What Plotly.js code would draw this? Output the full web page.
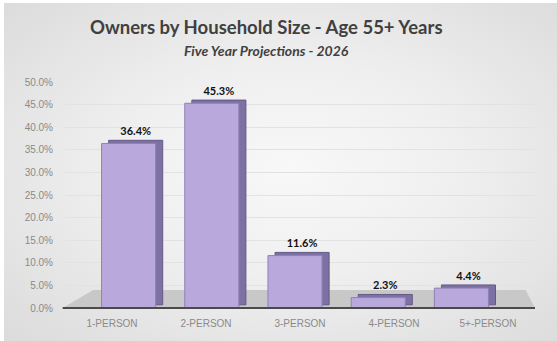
<!DOCTYPE html>
<html>
<head>
<meta charset="utf-8">
<script src="https://cdn.plot.ly/plotly-3.0.1.min.js"></script>
<style>
html,body{margin:0;padding:0;background:#ffffff;}
#chart{
  width:557px;height:341px;
  background:
    linear-gradient(#ffffff,#ffffff) top left/100% 3px no-repeat,
    linear-gradient(#ffffff,#ffffff) top left/4px 100% no-repeat,
    radial-gradient(ellipse 70% 70% at 52% 50%, #f8f8f8 0%, #efefef 45%, #dcdcdc 100%);
}
</style>
</head>
<body>
<div id="chart"></div>
<script>
const categories = ['1-PERSON', '2-PERSON', '3-PERSON', '4-PERSON', '5+-PERSON'];
const shares = [0.364, 0.453, 0.116, 0.023, 0.044];
const shareLabels = ['36.4%', '45.3%', '11.6%', '2.3%', '4.4%'];
const yTickValues = [0, 0.05, 0.10, 0.15, 0.20, 0.25, 0.30, 0.35, 0.40, 0.45, 0.50];
const chartTitle = 'Owners by Household Size - Age 55+ Years';
const chartSubtitle = 'Five Year Projections - 2026';

const BAR_WIDTH = 0.65;
const DEPTH_X = 0.085;   // category units
const DEPTH_Y = 0.007;   // value units

// darker extruded "depth" of each bar (drawn behind the front face)
const depth = {
  type: 'bar',
  x: categories,
  y: shares,
  base: DEPTH_Y,
  xaxis: 'x2',
  yaxis: 'y',
  width: BAR_WIDTH,
  offset: -BAR_WIDTH / 2 + DEPTH_X,
  marker: {color: '#7d70a2', line: {color: '#65598a', width: 1}},
  text: shareLabels,
  textposition: 'outside',
  cliponaxis: false,
  textfont: {family: 'Lato, "Open Sans", sans-serif', size: 11, color: '#111111', weight: 'bold'},
  hoverinfo: 'skip'
};

const bars = {
  type: 'bar',
  x: categories,
  y: shares,
  xaxis: 'x2',
  yaxis: 'y',
  width: BAR_WIDTH,
  offset: -BAR_WIDTH / 2,
  marker: {color: '#b8a8dc', line: {color: '#8f82b6', width: 1}},
  hoverinfo: 'skip'
};

// invisible carrier trace so the front category labels sit on the floor edge
const labelCarrier = {
  type: 'scatter',
  mode: 'markers',
  x: categories,
  y: categories.map(() => 0),
  xaxis: 'x',
  yaxis: 'y',
  marker: {opacity: 0, size: 1},
  hoverinfo: 'skip'
};

const layout = {
  width: 557,
  height: 341,
  margin: {l: 65, r: 22, t: 82, b: 33, autoexpand: false},
  paper_bgcolor: 'rgba(0,0,0,0)',
  plot_bgcolor: 'rgba(0,0,0,0)',
  showlegend: false,
  barmode: 'overlay',
  title: {
    text: '<b>' + chartTitle + '</b>',
    font: {family: 'Lato, "Open Sans", sans-serif', size: 18.5, color: '#404040'},
    xref: 'container', yref: 'container',
    x: 0.478, xanchor: 'center', y: 1 - 28 / 341, yanchor: 'middle'
  },
  annotations: [{
    text: '<b><i>' + chartSubtitle + '</i></b>',
    xref: 'paper', yref: 'paper',
    x: (266 - 65) / 470, y: (308 - 50) / 226,
    xanchor: 'center', yanchor: 'middle', showarrow: false,
    font: {family: 'Lato, "Open Sans", sans-serif', size: 14, color: '#404040'}
  }],
  xaxis: {
    domain: [0, 1],
    type: 'category',
    range: [-0.5, 4.5],
    automargin: false,
    showgrid: false, zeroline: false, showline: false,
    ticks: '',
    ticklabelstandoff: 8,
    tickfont: {family: '"Liberation Sans", sans-serif', size: 10, color: '#8a8a8a'},
    fixedrange: true
  },
  xaxis2: {
    domain: [22 / 470, 438 / 470],
    anchor: 'y',
    type: 'category',
    range: [-0.5, 4.5],
    automargin: false,
    showgrid: false, zeroline: false, showline: false,
    showticklabels: false, ticks: '',
    fixedrange: true
  },
  yaxis: {
    range: [0, 0.5],
    automargin: false,
    tickvals: yTickValues,
    tickformat: '.1%',
    showgrid: true,
    gridcolor: '#e2e2e2',
    gridwidth: 1,
    zeroline: false,
    showline: false,
    ticks: '',
    ticklabelstandoff: 11,
    tickfont: {family: '"Liberation Sans", sans-serif', size: 10, color: '#8a8a8a'},
    fixedrange: true
  },
  shapes: [
    {type: 'path', xref: 'paper', yref: 'paper',
     path: 'M 0.06,0.08 L 0.98,0.08 L 1.0,0 L -0.005,0 Z',
     fillcolor: '#c8c8c8', line: {width: 0}, layer: 'below'},
    {type: 'line', xref: 'paper', yref: 'paper', x0: -0.005, x1: 1.0, y0: 0, y1: 0,
     line: {color: '#4a4a4a', width: 2}}
  ]
};

Plotly.newPlot('chart', [depth, bars, labelCarrier], layout, {displayModeBar: false, staticPlot: true});
</script>
</body>
</html>
